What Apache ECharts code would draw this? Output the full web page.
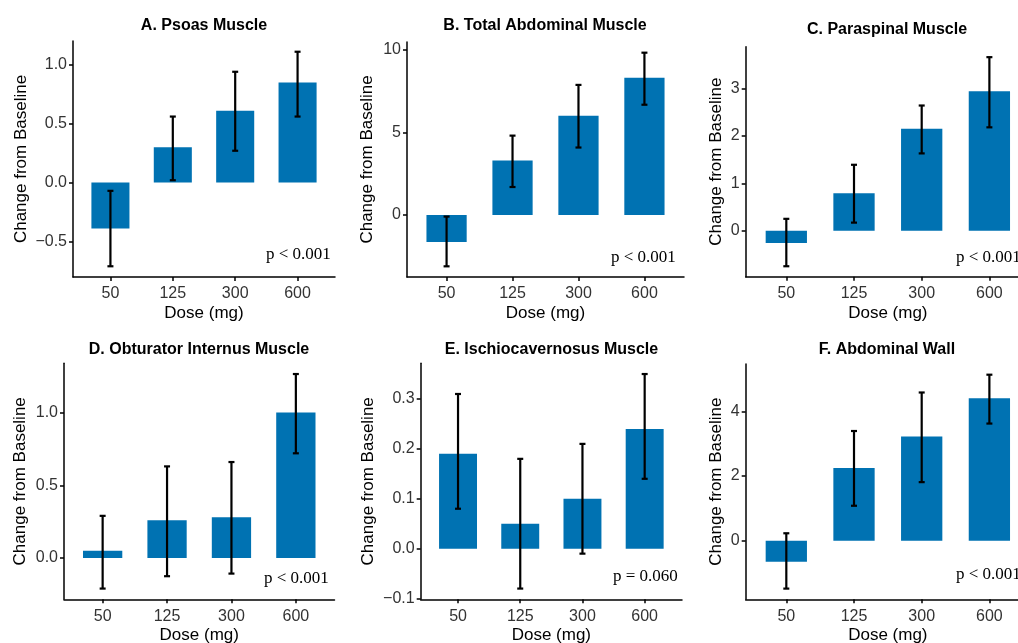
<!DOCTYPE html>
<html><head><meta charset="utf-8">
<script src="https://cdn.jsdelivr.net/npm/echarts@6/dist/echarts.min.js"></script>
<style>html,body{margin:0;padding:0;background:#fff}#c{width:1018px;height:643px}</style>
</head><body><div id="c"></div>
<script>
const doses = ['50', '125', '300', '600'];
const doseIndex = [1, 2, 3, 4];
const panelTitles = ['A. Psoas Muscle', 'B. Total Abdominal Muscle', 'C. Paraspinal Muscle',
  'D. Obturator Internus Muscle', 'E. Ischiocavernosus Muscle', 'F. Abdominal Wall'];
const pLabels = ['p < 0.001', 'p < 0.001', 'p < 0.001', 'p < 0.001', 'p = 0.060', 'p < 0.001'];
const yName = 'Change from Baseline';
const xName = 'Dose (mg)';

// A. Psoas
const meanA = [-0.39, 0.30, 0.61, 0.85];
const lowA  = [-0.71, 0.02, 0.27, 0.56];
const highA = [-0.07, 0.56, 0.94, 1.11];
const yTicksA = [-0.5, 0, 0.5, 1.0];
// B. Total Abdominal
const meanB = [-1.64, 3.29, 6.00, 8.31];
const lowB  = [-3.11, 1.69, 4.08, 6.67];
const highB = [-0.10, 4.80, 7.87, 9.82];
const yTicksB = [0, 5, 10];
// C. Paraspinal
const meanC = [-0.26, 0.79, 2.15, 2.94];
const lowC  = [-0.75, 0.17, 1.63, 2.18];
const highC = [0.25, 1.39, 2.64, 3.66];
const yTicksC = [0, 1, 2, 3];
// D. Obturator Internus
const meanD = [0.05, 0.26, 0.28, 1.00];
const lowD  = [-0.21, -0.125, -0.107, 0.72];
const highD = [0.29, 0.63, 0.66, 1.265];
const yTicksD = [0, 0.5, 1.0];
// E. Ischiocavernosus
const meanE = [0.19, 0.05, 0.10, 0.24];
const lowE  = [0.08, -0.08, -0.01, 0.14];
const highE = [0.31, 0.18, 0.21, 0.35];
const yTicksE = [-0.1, 0, 0.1, 0.2, 0.3];
// F. Abdominal Wall
const meanF = [-0.65, 2.25, 3.22, 4.40];
const lowF  = [-1.48, 1.08, 1.81, 3.62];
const highF = [0.23, 3.39, 4.58, 5.13];
const yTicksF = [0, 2, 4];

const panels = [
  {mean: meanA, low: lowA, high: highA, ticks: yTicksA, dec: 1},
  {mean: meanB, low: lowB, high: highB, ticks: yTicksB, dec: 0},
  {mean: meanC, low: lowC, high: highC, ticks: yTicksC, dec: 0},
  {mean: meanD, low: lowD, high: highD, ticks: yTicksD, dec: 1},
  {mean: meanE, low: lowE, high: highE, ticks: yTicksE, dec: 1},
  {mean: meanF, low: lowF, high: highF, ticks: yTicksF, dec: 0}
];

// layout (pixels)
const layout = [
  {left: 73,    top: 41,    width: 262,   height: 236,   yGap: 43, title: [204, 26],    p: [266, 255]},
  {left: 407,   top: 42,    width: 277,   height: 235,   yGap: 31, title: [545, 26],    p: [611, 258]},
  {left: 745.7, top: 46.7,  width: 284.3, height: 230,   yGap: 21, title: [887, 29.5],  p: [956, 258]},
  {left: 64,    top: 363.3, width: 270.5, height: 236,   yGap: 35, title: [199, 349.3], p: [264, 579]},
  {left: 420.7, top: 363.3, width: 261.3, height: 236,   yGap: 44, title: [551.5, 349.5], p: [613, 576.5]},
  {left: 745.7, top: 364,   width: 284.3, height: 235.3, yGap: 21, title: [887, 349.3], p: [956, 575]}
];

const BLUE = '#0072B2';
const AXIS = {color: '#000', width: 1.5};
const grids = [], xAxes = [], yAxes = [], series = [], graphics = [];

panels.forEach((pn, i) => {
  const L = layout[i];
  grids.push({left: L.left, top: L.top, width: L.width, height: L.height,
    containLabel: false, outerBoundsMode: 'none'});
  const all = pn.low.concat(pn.high, pn.mean, [0]);
  const lo = Math.min(...all), hi = Math.max(...all), span = hi - lo;
  xAxes.push({
    type: 'value', gridIndex: i, min: 0.4, max: 4.6,
    splitLine: {show: false},
    axisLine: {show: true, onZero: false, lineStyle: AXIS},
    axisTick: {show: true, length: 4, lineStyle: AXIS, customValues: doseIndex},
    axisLabel: {customValues: doseIndex, formatter: v => doses[Math.round(v) - 1],
      fontFamily: 'Liberation Sans', fontSize: 16, color: '#333', margin: 9},
    name: xName, nameLocation: 'middle', nameGap: 28,
    nameTextStyle: {fontFamily: 'Liberation Sans', fontSize: 17, color: '#000', verticalAlign: 'top'}
  });
  yAxes.push({
    type: 'value', gridIndex: i, min: lo - 0.05 * span, max: hi + 0.05 * span,
    splitLine: {show: false},
    axisLine: {show: true, onZero: false, lineStyle: AXIS},
    axisTick: {show: true, length: 4, lineStyle: AXIS, customValues: pn.ticks},
    axisLabel: {customValues: pn.ticks,
      formatter: v => v.toFixed(pn.dec).replace('-', '\u2212'),
      fontFamily: 'Liberation Sans', fontSize: 16, color: '#333', margin: 6},
    name: yName, nameLocation: 'middle', nameGap: L.yGap,
    nameTextStyle: {fontFamily: 'Liberation Sans', fontSize: 17, color: '#000'}
  });
  const data = doseIndex.map((d, k) => [d, pn.mean[k], pn.low[k], pn.high[k]]);
  series.push({
    type: 'custom', xAxisIndex: i, yAxisIndex: i, data: data, silent: true,
    encode: {x: 0, y: 1},
    renderItem: (params, api) => {
      const x = api.value(0), y = api.value(1);
      const p0 = api.coord([x - 0.305, 0]);
      const p1 = api.coord([x + 0.305, y]);
      return {type: 'rect',
        shape: {x: p0[0], y: Math.min(p0[1], p1[1]), width: p1[0] - p0[0], height: Math.abs(p1[1] - p0[1])},
        style: {fill: BLUE}};
    }
  });
  series.push({
    type: 'custom', xAxisIndex: i, yAxisIndex: i, data: data, silent: true, z: 5,
    encode: {x: 0, y: [2, 3]},
    renderItem: (params, api) => {
      const x = api.value(0);
      const a = api.coord([x, api.value(2)]);
      const b = api.coord([x, api.value(3)]);
      const st = {stroke: '#000', lineWidth: 2.2};
      return {type: 'group', children: [
        {type: 'line', shape: {x1: a[0], y1: a[1], x2: b[0], y2: b[1]}, style: st},
        {type: 'line', shape: {x1: a[0] - 3, y1: a[1], x2: a[0] + 3, y2: a[1]}, style: st},
        {type: 'line', shape: {x1: b[0] - 3, y1: b[1], x2: b[0] + 3, y2: b[1]}, style: st}
      ]};
    }
  });
  graphics.push({type: 'text', x: L.title[0], y: L.title[1],
    style: {text: panelTitles[i], align: 'center', verticalAlign: 'middle',
      font: 'bold 16px "Liberation Sans"', fill: '#000'}});
  graphics.push({type: 'text', x: L.p[0], y: L.p[1],
    style: {text: pLabels[i], align: 'left', verticalAlign: 'middle',
      font: '17px "Liberation Serif"', fill: '#000'}});
});

const chart = echarts.init(document.getElementById('c'), null, {renderer: 'canvas'});
chart.setOption({
  animation: false,
  backgroundColor: '#fff',
  grid: grids, xAxis: xAxes, yAxis: yAxes, series: series, graphic: graphics
});
</script></body></html>
